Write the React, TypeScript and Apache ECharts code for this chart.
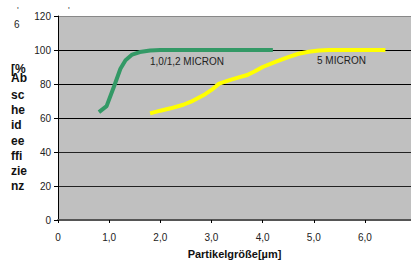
import React, { useEffect, useRef } from "react";
import * as echarts from "echarts";

const xTicks = [0, 1, 2, 3, 4, 5, 6];
const yTicks = [0, 20, 40, 60, 80, 100, 120];
const green: [number, number][] = [
  [0.8, 63.5], [0.95, 67], [1.1, 79], [1.22, 89], [1.32, 94], [1.45, 97.3], [1.6, 98.8], [1.8, 99.7], [2.0, 100], [4.2, 100],
];
const yellow: [number, number][] = [
  [1.8, 62.7], [2.0, 64.3], [2.2, 65.7], [2.45, 67.8], [2.6, 69.6], [2.85, 73.5], [3.0, 76.5], [3.15, 80.2], [3.37, 82.4],
  [3.55, 84], [3.7, 85.3], [3.85, 87.5], [4.0, 90], [4.25, 93], [4.5, 95.8], [4.7, 97.8], [4.9, 99], [5.1, 99.7],
  [5.3, 100], [6.4, 100],
];
const yTitleParts = ["[%", "Ab", "sc", "he", "id", "ee", "ffi", "zie", "nz"];
const yTitleY = [70, 79, 96, 111, 126, 142, 157, 172, 187];

export default function App() {
  const ref = useRef<HTMLDivElement>(null);
  useEffect(() => {
    const chart = echarts.init(ref.current!, undefined, { renderer: "svg" });
    const font = "Liberation Sans, Arial, sans-serif";
    chart.setOption({
      animation: false,
      backgroundColor: "#ffffff",
      grid: {
        left: 58,
        top: 16,
        right: 0,
        bottom: 44,
        show: true,
        backgroundColor: "#c0c0c0",
        borderWidth: 0,
        containLabel: false,
        outerBoundsMode: "none",
      },
      xAxis: {
        type: "value",
        min: 0,
        max: 6.9,
        interval: 1,
        axisLine: { show: true, onZero: false, lineStyle: { color: "#555", width: 2 } },
        axisTick: { show: true, inside: false, length: 3, lineStyle: { color: "#000" } },
        splitLine: { show: false },
        axisLabel: {
          color: "#222",
          fontFamily: font,
          fontSize: 10,
          margin: 12,
          showMaxLabel: false,
          formatter: (v: number) => (xTicks.includes(v) ? (v === 0 ? "0" : v.toFixed(1).replace(".", ",")) : ""),
        },
        name: "Partikelgröße[µm]",
        nameLocation: "middle",
        nameGap: 28,
        nameTextStyle: { color: "#111", fontWeight: "bold", fontSize: 11, fontFamily: font },
      },
      yAxis: {
        type: "value",
        min: 0,
        max: 120,
        interval: 20,
        axisLine: { show: true, lineStyle: { color: "#000", width: 1 } },
        axisTick: { show: true, inside: false, length: 4, lineStyle: { color: "#000" } },
        axisLabel: {
          color: "#222",
          fontFamily: font,
          fontSize: 10,
          margin: 7,
          formatter: (v: number) => (yTicks.includes(v) ? String(v) : ""),
        },
        splitLine: {
          show: true,
          lineStyle: { color: ["#444", "#222", "#222", "#000", "#000", "#000", "#888"], width: 1 },
        },
      },
      series: [
        {
          type: "line",
          data: green,
          showSymbol: false,
          smooth: false,
          lineStyle: { color: "#339966", width: 4, join: "round" },
          z: 3,
        },
        {
          type: "line",
          data: yellow,
          showSymbol: false,
          smooth: false,
          lineStyle: { color: "#ffff00", width: 4, join: "round" },
          z: 2,
        },
      ],
      graphic: [
        { type: "text", left: 150, top: 56, style: { text: "1,0/1,2 MICRON", fill: "#222", font: `10px ${font}` } },
        { type: "text", left: 317, top: 55, style: { text: "5 MICRON", fill: "#222", font: `10px ${font}` } },
        { type: "text", left: 17, top: 5, style: { text: "'", fill: "#444", font: `9px ${font}` } },
        { type: "text", left: 14, top: 19, style: { text: "6", fill: "#222", font: `10px ${font}` } },
        { type: "text", left: 68, top: 5, style: { text: "'", fill: "#444", font: `9px ${font}` } },
        ...yTitleParts.map((t, i) => ({
          type: "text",
          left: 11,
          top: yTitleY[i] - 7,
          style: { text: t, fill: "#111", font: `bold 12px ${font}` },
        })),
      ],
    });
    return () => chart.dispose();
  }, []);
  return <div ref={ref} style={{ position: "fixed", left: 0, top: 0, width: 411, height: 264 }} />;
}
